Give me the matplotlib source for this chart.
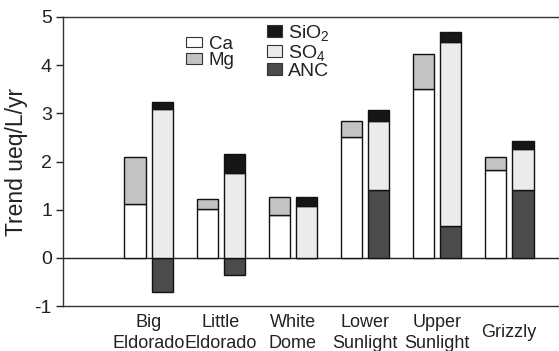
import numpy as np
import matplotlib.pyplot as plt
from matplotlib.patches import Patch

plt.rcParams['font.family'] = ['Liberation Sans', 'DejaVu Sans']
plt.rcParams['mathtext.fontset'] = 'custom'
plt.rcParams['mathtext.rm'] = 'Liberation Sans'
plt.rcParams['mathtext.it'] = 'Liberation Sans:italic'
plt.rcParams['axes.unicode_minus'] = False

# watersheds
sites = ["Big\nEldorado", "Little\nEldorado", "White\nDome",
         "Lower\nSunlight", "Upper\nSunlight", "Grizzly"]

# cation trends (stacked increments)
ca = [1.11, 1.02, 0.90, 2.51, 3.51, 1.83]
mg = [0.99, 0.21, 0.37, 0.33, 0.73, 0.27]

# anion trends (stacked increments, ANC may be negative)
anc = [-0.71, -0.36, 0.0, 1.40, 0.67, 1.40]
so4 = [3.08, 1.77, 1.07, 1.44, 3.81, 0.85]
sio2 = [0.15, 0.39, 0.20, 0.22, 0.20, 0.18]

c_ca, c_mg = 'white', '#c3c3c3'
c_sio2, c_so4, c_anc = '#161616', '#ebebeb', '#4b4b4b'
edge = '#111111'
txt = '#222222'

fig = plt.figure(figsize=(5.59, 3.51), dpi=100)
ax = fig.add_axes([0.1127, 0.128, 0.8873, 0.8236])

x = np.arange(len(sites))
w = 0.30
off = 0.19
ca = np.array(ca); mg = np.array(mg)
anc = np.array(anc); so4 = np.array(so4); sio2 = np.array(sio2)

ax.axhline(0, color=txt, lw=1.0, zorder=1)

kw = dict(width=w, edgecolor=edge, linewidth=1.0, zorder=2)
ax.bar(x - off, ca, color=c_ca, **kw)
ax.bar(x - off, mg, bottom=ca, color=c_mg, **kw)

so4_base = np.clip(anc, 0, None)
ax.bar(x + off, anc, color=c_anc, **kw)
ax.bar(x + off, so4, bottom=so4_base, color=c_so4, **kw)
ax.bar(x + off, sio2, bottom=so4_base + so4, color=c_sio2, **kw)

ax.set_xlim(-1.194, 5.694)
ax.set_ylim(-1, 5)
ax.set_yticks(range(-1, 6))
ax.set_xticks([])
ax.tick_params(axis='y', direction='out', length=5, width=1.0,
               labelsize=14, pad=3, colors=txt)
ax.spines['right'].set_visible(False)
for s in ['left', 'top', 'bottom']:
    ax.spines[s].set_color('#333333')
    ax.spines[s].set_linewidth(1.0)

ax.set_ylabel("Trend ueq/L/yr", fontsize=16.5, color=txt, labelpad=5)

trans = ax.get_xaxis_transform()
for xi, name in zip(x, sites):
    ax.text(xi, -0.092, name, transform=trans, ha='center', va='center',
            multialignment='center', fontsize=13, color=txt,
            linespacing=1.3)

h1 = [Patch(facecolor=c_ca, edgecolor='#333333', lw=0.8, label='Ca'),
      Patch(facecolor=c_mg, edgecolor='#333333', lw=0.8, label='Mg')]
leg1 = ax.legend(handles=h1, loc='upper left', bbox_to_anchor=(0.248, 0.935),
                 frameon=False, fontsize=13.5, handlelength=0.85,
                 handleheight=0.5, handletextpad=0.35, labelspacing=-0.05,
                 borderpad=0, borderaxespad=0, labelcolor=txt)
ax.add_artist(leg1)

h2 = [Patch(facecolor=c_sio2, edgecolor='#333333', lw=0.8, label='SiO$_2$'),
      Patch(facecolor=c_so4, edgecolor='#333333', lw=0.8, label='SO$_4$'),
      Patch(facecolor=c_anc, edgecolor='#333333', lw=0.8, label='ANC')]
ax.legend(handles=h2, loc='upper left', bbox_to_anchor=(0.411, 0.98),
          frameon=False, fontsize=14, handlelength=0.8, handleheight=0.6,
          handletextpad=0.3, labelspacing=0.0, borderpad=0, borderaxespad=0,
          labelcolor=txt)

fig.savefig('out.png', dpi=100)
